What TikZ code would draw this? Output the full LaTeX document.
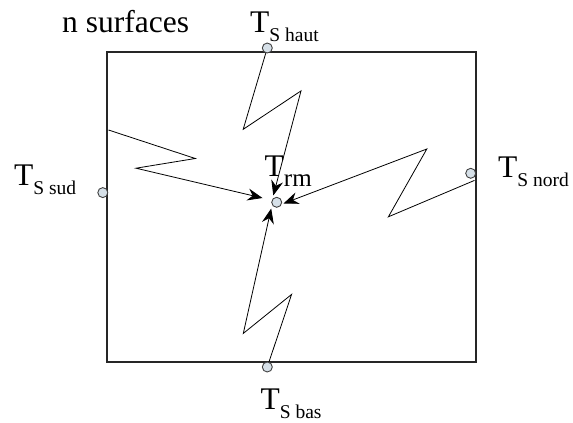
\documentclass[tikz,border=0pt]{standalone}
\usepackage{fontspec}
\setmainfont{Liberation Serif}
\usetikzlibrary{arrows.meta}
\definecolor{dotfill}{RGB}{214,224,232}
\newcommand\subtxt[1]{\raisebox{-9pt}{\fontsize{19.5}{19.5}\selectfont #1}}
\newcommand\subrm[1]{\raisebox{-10.5pt}{\fontsize{25}{25}\selectfont #1}}
\tikzset{
  dot/.style={circle,draw=black!75,line width=0.9pt,fill=dotfill,minimum size=10pt,inner sep=0pt},
  lbl/.style={anchor=base west,inner sep=0pt,font=\fontsize{31.5}{31.5}\selectfont},
  zig/.style={line width=0.8pt,-{Stealth[length=15pt,width=12pt,inset=5pt]}},
  wall/.style={line width=2.2pt,draw=black!85}
}
\begin{document}
\begin{tikzpicture}[x=1pt,y=-1pt]
\useasboundingbox (0,0) rectangle (573,423);
\draw[wall] (107.3,52) rectangle (476,362);
\node[dot] (ct) at (267.3,48) {};
\node[dot] (cb) at (267.3,367) {};
\node[dot] (cl) at (102.8,192.6) {};
\node[dot] (cr) at (470.7,173.3) {};
\node[dot] (cc) at (276.7,202.3) {};
\coordinate (tt) at (273.3,195.5);
\coordinate (tl) at (262.5,198);
\coordinate (tr) at (283.5,203.5);
\coordinate (tb) at (271.2,208.5);
\coordinate (sl) at (108.5,130);
\coordinate (sr) at (474.5,180.4);
\draw[zig] (ct) -- (243.2,129.3) -- (301,90.9) -- (tt);
\draw[zig] (sl) -- (195.3,158.5) -- (136,168.2) -- (tl);
\draw[zig] (sr) -- (388.4,216.8) -- (426.8,149) -- (tr);
\draw[zig] (cb) -- (291.6,294.4) -- (243.3,333.4) -- (tb);
\node[lbl] (ns) at (62,32.4) {n surfaces};
\node[lbl] (lh) at (250,32.4) {T\subtxt{S haut}};
\node[lbl] (ls) at (14,185.4) {T\subtxt{S sud}};
\node[lbl] (ln) at (498,177) {T\subtxt{S nord}};
\node[lbl] (lb) at (260.4,409.3) {T\subtxt{S bas}};
\node[lbl] (lm) at (264.5,176) {T\subrm{rm}};
\end{tikzpicture}
\end{document}
